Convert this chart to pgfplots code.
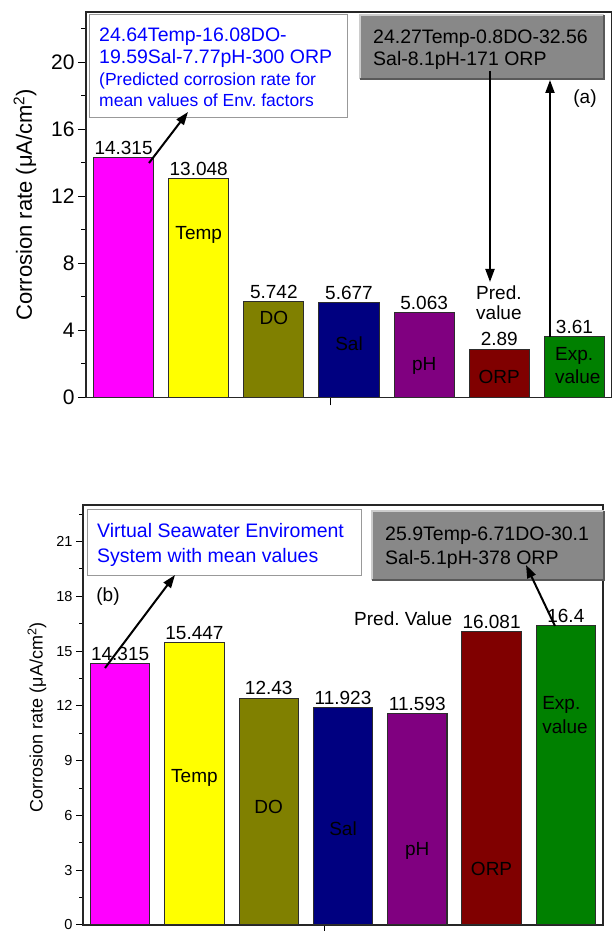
\documentclass[border=0pt]{standalone}
\usepackage{fontspec}
\setmainfont{Liberation Sans}
\usepackage{pgfplots}
\pgfplotsset{compat=1.18}
\usetikzlibrary{arrows.meta}
\definecolor{cMag}{RGB}{255,0,255}
\definecolor{cYel}{RGB}{255,255,0}
\definecolor{cOli}{RGB}{128,128,0}
\definecolor{cNav}{RGB}{0,0,128}
\definecolor{cPur}{RGB}{128,0,128}
\definecolor{cMar}{RGB}{128,0,0}
\definecolor{cGrn}{RGB}{0,128,0}
\definecolor{cBlue}{RGB}{0,0,255}
\definecolor{boxg}{RGB}{136,136,136}
\definecolor{edge}{RGB}{45,45,45}
\newcommand{\fs}[1]{\fontsize{#1}{#1}\selectfont}
\pgfplotsset{
  panel/.style={
    scale only axis, anchor=south west, xmin=0.5, xmax=7.5, ymin=0, ymax=23,
    xtick={3.75}, xticklabels={}, tick align=outside, xtick pos=lower, ytick pos=left,
    axis line style={line width=1.2pt, black!85},
    tick style={black, line width=1pt},
    clip=false,
    nodes near coords={\pgfmathprintnumber[fixed,precision=3]{\pgfplotspointmeta}},
    every node near coord/.append style={anchor=south, font=\fs{19}, black, inner sep=2.5pt},
    /pgf/number format/assume math mode=true,
  },
  cbar/.style={ybar, bar shift=0pt, bar width=0.8, draw=edge, line width=1pt, fill=#1},
}
\tikzset{arr/.style={-{Triangle[length=13pt,width=9pt]}, line width=2pt, black}}
\frenchspacing
\begin{document}
\begin{tikzpicture}[x=1pt,y=1pt]
\useasboundingbox (0,0) rectangle (611,931);
% ---------------- panel (a)
\begin{axis}[panel, at={(86pt,533.5pt)}, width=526pt, height=385.5pt,
  ytick={0,4,...,20}, minor ytick={2,6,10,14,18,22},
  major tick length=8pt, minor tick length=5pt,
  yticklabel style={font=\fs{21}},
  ylabel={Corrosion rate (μA/cm\textsuperscript{2})},
  ylabel style={at={(axis description cs:-0.116,0.5)}, anchor=center, font=\fs{22}}]
\addplot[cbar=cMag] coordinates {(1,14.315)};
\addplot[cbar=cYel] coordinates {(2,13.048)};
\addplot[cbar=cOli] coordinates {(3,5.742)};
\addplot[cbar=cNav] coordinates {(4,5.677)};
\addplot[cbar=cPur] coordinates {(5,5.063)};
\addplot[cbar=cMar] coordinates {(6,2.89)};
\addplot[cbar=cGrn] coordinates {(7,3.61)};
\node[font=\fs{19}] at (axis cs:2,9.7) {Temp};
\node[font=\fs{19}] at (axis cs:3,4.74) {DO};
\node[font=\fs{19}] at (axis cs:4,3.19) {Sal};
\node[font=\fs{19}] at (axis cs:5,1.88) {pH};
\node[font=\fs{19}] at (axis cs:6,1.22) {ORP};
\node[font=\fs{19}, anchor=west, inner sep=0pt] at (axis cs:6.74,2.48) {Exp.};
\node[font=\fs{19}, anchor=west, inner sep=0pt] at (axis cs:6.74,1.22) {value};
\node[font=\fs{19}, anchor=west, inner sep=0pt] at (axis cs:5.69,6.24) {Pred.};
\node[font=\fs{19}, anchor=west, inner sep=0pt] at (axis cs:5.69,5.04) {value};
\end{axis}
% ---------------- panel (b)
\begin{axis}[panel, at={(83pt,6pt)}, width=520pt, height=420pt,
  ytick={0,3,...,21}, minor ytick={1.5,4.5,...,22.5},
  major tick length=7pt, minor tick length=4pt,
  yticklabel style={font=\fs{14.5}},
  ylabel={Corrosion rate (μA/cm\textsuperscript{2})},
  ylabel style={at={(axis description cs:-0.0885,0.495)}, anchor=center, font=\fs{18}}]
\addplot[cbar=cMag] coordinates {(1,14.315)};
\addplot[cbar=cYel] coordinates {(2,15.447)};
\addplot[cbar=cOli] coordinates {(3,12.43)};
\addplot[cbar=cNav] coordinates {(4,11.923)};
\addplot[cbar=cPur] coordinates {(5,11.593)};
\addplot[cbar=cMar] coordinates {(6,16.081)};
\addplot[cbar=cGrn] coordinates {(7,16.4)};
\node[font=\fs{19}] at (axis cs:2,8.05) {Temp};
\node[font=\fs{19}] at (axis cs:3,6.46) {DO};
\node[font=\fs{19}] at (axis cs:4,5.26) {Sal};
\node[font=\fs{19}] at (axis cs:5,4.05) {pH};
\node[font=\fs{19}] at (axis cs:6,3.07) {ORP};
\node[font=\fs{19}, anchor=west, inner sep=0pt] at (axis cs:6.68,12.05) {Exp.};
\node[font=\fs{19}, anchor=west, inner sep=0pt] at (axis cs:6.68,10.84) {value};
\node[font=\fs{19}] at (axis cs:4.81,16.76) {Pred. Value};
\end{axis}
% ---------------- annotations (a)
\draw[draw=gray!80, fill=white, line width=1pt] (89,813) rectangle (347,916);
\node[anchor=base west, text=cBlue, font=\fs{19.5}, inner sep=0pt] at (99,889) {24.64Temp-16.08DO-};
\node[anchor=base west, text=cBlue, font=\fs{19.5}, inner sep=0pt] at (99,867) {19.59Sal-7.77pH-300 ORP};
\node[anchor=base west, text=cBlue, font=\fs{17.5}, inner sep=0pt] at (99,845) {(Predicted corrosion rate for};
\node[anchor=base west, text=cBlue, font=\fs{17.5}, inner sep=0pt] at (99,824) {mean values of Env. factors};
\fill[boxg] (360,852) rectangle (604,916);
\draw[black!20, line width=1.5pt] (360,852) -- (360,916) -- (604,916);
\draw[black!65, line width=2.5pt] (360,852) -- (604,852) -- (604,916);
\node[anchor=base west, font=\fs{19.5}, inner sep=0pt] at (373,887) {24.27Temp-0.8DO-32.56};
\node[anchor=base west, font=\fs{19.5}, inner sep=0pt] at (373,865) {Sal-8.1pH-171 ORP};
\node[font=\fs{19}] at (585,832) {(a)};
\draw[arr] (149,768) -- (188,819);
\draw[arr] (490,860) -- (490,649);
\draw[arr] (550,594) -- (550,851);
% ---------------- annotations (b)
\draw[draw=gray!80, fill=white, line width=1pt] (87,355) rectangle (361,421);
\node[anchor=base west, text=cBlue, font=\fs{19.5}, inner sep=0pt] at (97,393) {Virtual Seawater Enviroment};
\node[anchor=base west, text=cBlue, font=\fs{19.5}, inner sep=0pt] at (97,368) {System with mean values};
\fill[boxg] (372,351) rectangle (604,420);
\draw[black!20, line width=1.5pt] (372,351) -- (372,420) -- (604,420);
\draw[black!65, line width=2.5pt] (372,351) -- (604,351) -- (604,420);
\node[anchor=base west, font=\fs{19.5}, inner sep=0pt] at (385,390) {25.9Temp-6.71DO-30.1};
\node[anchor=base west, font=\fs{19.5}, inner sep=0pt] at (385,366) {Sal-5.1pH-378 ORP};
\node[font=\fs{19}] at (108,334) {(b)};
\draw[arr] (105,263) -- (175,356);
\draw[arr] (555,305) -- (526,366);
\end{tikzpicture}
\end{document}
